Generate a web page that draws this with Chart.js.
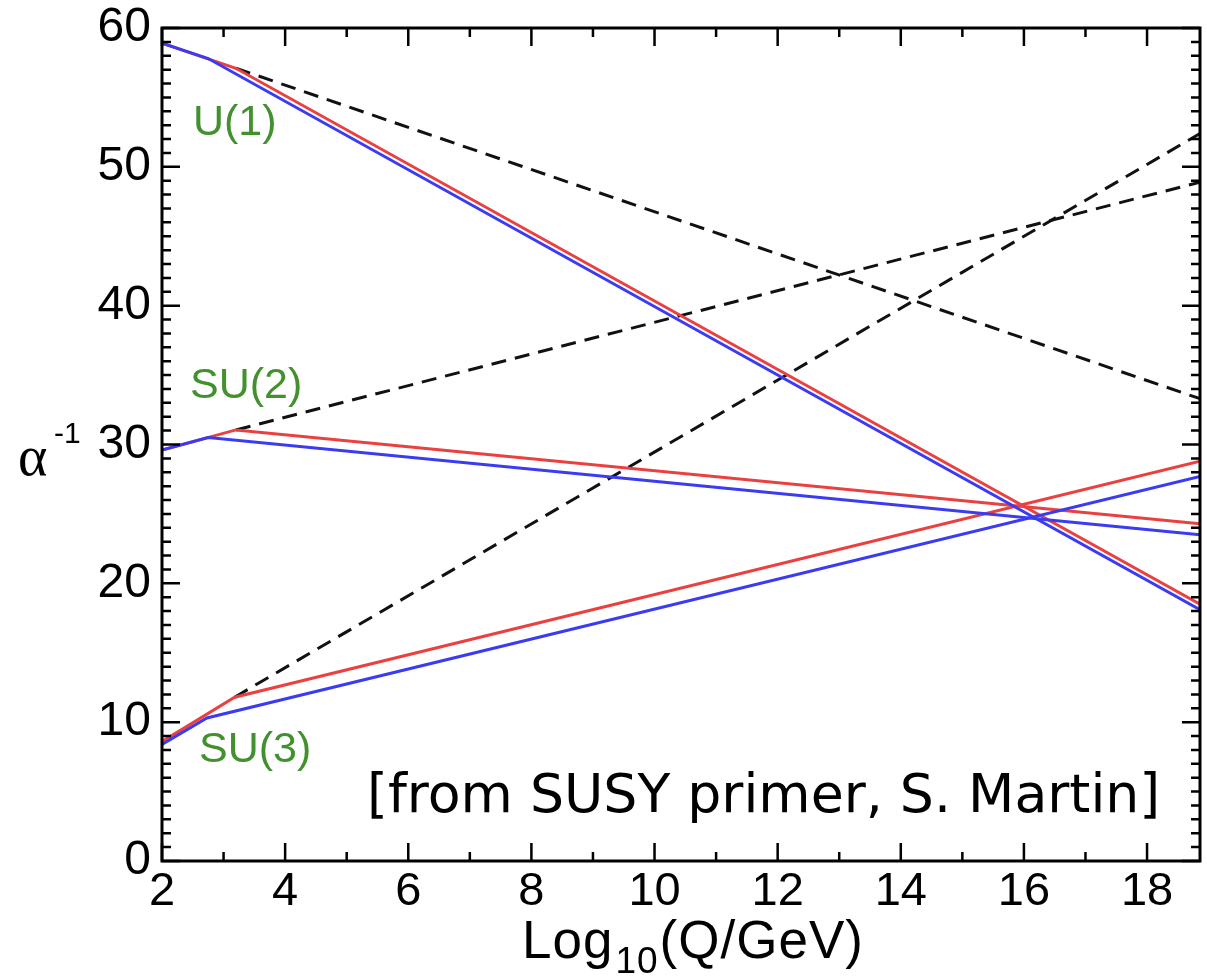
<!DOCTYPE html>
<html>
<head>
<meta charset="utf-8">
<script src="https://cdn.jsdelivr.net/npm/chart.js@4.4.1/dist/chart.umd.min.js"></script>
<style>
  html, body { margin: 0; padding: 0; background: #fff; }
  #wrap { width: 1207px; height: 976px; }
</style>
</head>
<body>
<div id="wrap"><canvas id="couplingChart" width="1207" height="976"></canvas></div>
<script>
// right edge of the frame, in log10(Q/GeV)
const xEdge = 18.86;

// U(1)
const u1BlueX = [2, 2.75, xEdge];
const u1BlueY = [58.9, 57.8, 18.1];
const u1RedX = [2, 3.2, xEdge];
const u1RedY = [58.9, 57.1, 18.5];
const u1SmX = [3.2, xEdge];
const u1SmY = [57.1, 33.3];

// SU(2)
const su2BlueX = [2, 2.75, xEdge];
const su2BlueY = [29.6, 30.5, 23.5];
const su2RedX = [2, 3.2, xEdge];
const su2RedY = [29.6, 31.05, 24.3];
const su2SmX = [3.2, xEdge];
const su2SmY = [31.05, 48.9];

// SU(3)
const su3BlueX = [2, 2.73, xEdge];
const su3BlueY = [8.4, 10.3, 27.7];
const su3RedX = [2, 3.18, xEdge];
const su3RedY = [8.6, 11.8, 28.8];
const su3SmX = [3.18, xEdge];
const su3SmY = [11.8, 52.4];

const xTickValues = [2, 4, 6, 8, 10, 12, 14, 16, 18];
const yTickValues = [0, 10, 20, 30, 40, 50, 60];

const groupLabels = ['U(1)', 'SU(2)', 'SU(3)'];
const creditText = '[from SUSY primer, S. Martin]';

const BLUE = '#3b3bf2';
const RED = '#ea4140';
const GREEN = '#43902f';
const SANS = '"Liberation Sans", Arial, Helvetica, sans-serif';

function pts(xs, ys) {
    return xs.map((x, i) => ({ x: x, y: ys[i] }));
}

function solid(xs, ys, color) {
    return {
        data: pts(xs, ys),
        borderColor: color,
        borderWidth: 3,
        pointRadius: 0,
        tension: 0,
        fill: false
    };
}

function dashed(xs, ys) {
    return {
        data: pts(xs, ys),
        borderColor: '#111',
        borderWidth: 3,
        borderDash: [15, 9],
        pointRadius: 0,
        tension: 0,
        fill: false
    };
}

// inward ticks on all four sides plus the box
const framePlugin = {
    id: 'frame',
    afterDraw(chart) {
        const { ctx, chartArea: a, scales: { x, y } } = chart;
        ctx.save();
        ctx.strokeStyle = '#000';
        ctx.lineWidth = 3;
        ctx.strokeRect(a.left, a.top, a.right - a.left, a.bottom - a.top);

        ctx.lineWidth = 2.5;
        ctx.beginPath();
        for (let v = Math.ceil(x.min); v <= x.max; v++) {
            const px = x.getPixelForValue(v);
            const len = v % 2 === 0 ? 18 : 9;
            ctx.moveTo(px, a.bottom);
            ctx.lineTo(px, a.bottom - len);
            ctx.moveTo(px, a.top);
            ctx.lineTo(px, a.top + len);
        }
        for (let v = y.min; v <= y.max; v++) {
            const py = y.getPixelForValue(v);
            const len = v % 10 === 0 ? 18 : 9;
            ctx.moveTo(a.left, py);
            ctx.lineTo(a.left + len, py);
            ctx.moveTo(a.right, py);
            ctx.lineTo(a.right - len, py);
        }
        ctx.stroke();
        ctx.restore();
    }
};

// group names, credit line and the two axis titles
const textPlugin = {
    id: 'texts',
    afterDraw(chart) {
        const { ctx } = chart;
        ctx.save();
        ctx.textBaseline = 'alphabetic';
        ctx.textAlign = 'left';

        ctx.fillStyle = GREEN;
        ctx.font = '43px ' + SANS;
        ctx.fillText(groupLabels[0], 193, 135);
        ctx.fillText(groupLabels[1], 190, 398);
        ctx.fillText(groupLabels[2], 199, 762);

        // credit, stretched to the width it has in the figure
        ctx.fillStyle = '#000';
        ctx.font = '40px "DejaVu Sans", sans-serif';
        const w = ctx.measureText(creditText).width;
        const size = 40 * 793 / w;
        ctx.font = size.toFixed(1) + 'px "DejaVu Sans", sans-serif';
        ctx.fillText(creditText, 367, 812);

        // y title: alpha^-1
        ctx.font = '56px "Liberation Serif", "Times New Roman", serif';
        ctx.fillText('\u03b1', 18, 475);
        ctx.font = '30px ' + SANS;
        ctx.fillText('-1', 54, 443);

        // x title: Log10(Q/GeV)
        ctx.letterSpacing = '1px';
        ctx.font = '53px ' + SANS;
        let xPos = 522;
        ctx.fillText('Log', xPos, 958);
        xPos += ctx.measureText('Log').width + 2;
        ctx.font = '37px ' + SANS;
        ctx.fillText('10', xPos, 973);
        xPos += ctx.measureText('10').width + 1;
        ctx.font = '53px ' + SANS;
        ctx.fillText('(Q/GeV)', xPos, 958);

        ctx.restore();
    }
};

Chart.defaults.font.family = SANS;
Chart.defaults.color = '#000';

const ctx = document.getElementById('couplingChart');
new Chart(ctx, {
    type: 'line',
    data: {
        datasets: [
            solid(u1BlueX, u1BlueY, BLUE),
            solid(su2BlueX, su2BlueY, BLUE),
            solid(su3BlueX, su3BlueY, BLUE),
            solid(u1RedX, u1RedY, RED),
            solid(su2RedX, su2RedY, RED),
            solid(su3RedX, su3RedY, RED),
            dashed(u1SmX, u1SmY),
            dashed(su2SmX, su2SmY),
            dashed(su3SmX, su3SmY)
        ]
    },
    options: {
        responsive: false,
        maintainAspectRatio: false,
        animation: false,
        layout: {
            padding: { left: 0, top: 28, right: 7, bottom: 0 }
        },
        plugins: {
            legend: { display: false },
            tooltip: { enabled: false }
        },
        scales: {
            x: {
                type: 'linear',
                min: 2,
                max: xEdge,
                grid: { display: false, drawTicks: false },
                border: { display: false },
                afterBuildTicks: (scale) => {
                    scale.ticks = xTickValues.map(v => ({ value: v }));
                },
                afterFit: (scale) => {
                    scale.height = 115;
                    scale.paddingLeft = 0;
                    scale.paddingRight = 0;
                },
                ticks: {
                    padding: 3,
                    maxRotation: 0,
                    autoSkip: false,
                    font: { size: 47 }
                }
            },
            y: {
                type: 'linear',
                min: 0,
                max: 60,
                grid: { display: false, drawTicks: false },
                border: { display: false },
                afterBuildTicks: (scale) => {
                    scale.ticks = yTickValues.map(v => ({ value: v }));
                },
                afterFit: (scale) => {
                    scale.width = 162;
                    scale.paddingTop = 0;
                    scale.paddingBottom = 0;
                },
                ticks: {
                    padding: 11,
                    autoSkip: false,
                    font: { size: 48 }
                }
            }
        }
    },
    plugins: [framePlugin, textPlugin]
});
</script>
</body>
</html>
